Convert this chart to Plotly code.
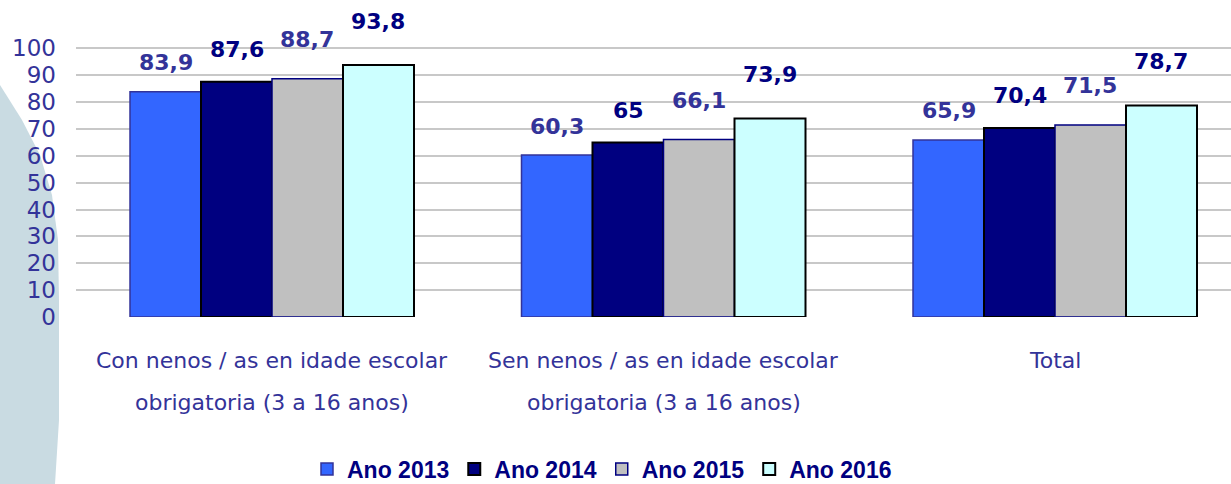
import plotly.graph_objects as go

# ---- data ----
categories = [
    "Con nenos / as en idade escolar|obrigatoria (3 a 16 anos)",
    "Sen nenos / as en idade escolar|obrigatoria (3 a 16 anos)",
    "Total",
]
series_names = ["Ano 2013", "Ano 2014", "Ano 2015", "Ano 2016"]
values_2013 = [83.9, 60.3, 65.9]
values_2014 = [87.6, 65.0, 70.4]
values_2015 = [88.7, 66.1, 71.5]
values_2016 = [93.8, 73.9, 78.7]
y_ticks = [0, 10, 20, 30, 40, 50, 60, 70, 80, 90, 100]

series_values = [values_2013, values_2014, values_2015, values_2016]

# ---- styles ----
fill_colors = ["#3366FF", "#000080", "#C0C0C0", "#CCFFFF"]
line_colors = ["#333399", "#000000", "#000080", "#000000"]
line_widths = [1.5, 2, 1.5, 2]
label_colors = ["#333399", "#000080", "#333399", "#000080"]
label_yshift = [29, 32, 39, 44]

W, H = 1231, 484
ML, MR, MT, MB = 76, 0, 0, 167
plot_w = W - ML - MR
plot_h = H - MT - MB
px_per_cat = 391.5
x_left = -(272 - ML) / px_per_cat
x_right = x_left + plot_w / px_per_cat
bargap = 0.2746
bar_px = px_per_cat * (1 - bargap) / 4

x_idx = list(range(len(categories)))

fig = go.Figure()
for i, name in enumerate(series_names):
    fig.add_trace(go.Bar(
        x=x_idx, y=series_values[i], name=name,
        marker=dict(color=fill_colors[i],
                    line=dict(color=line_colors[i], width=line_widths[i])),
        hoverinfo="skip",
    ))

annotations = []
# value labels
for i, vals in enumerate(series_values):
    for j, v in enumerate(vals):
        txt = ("%g" % v).replace(".", ",")
        annotations.append(dict(
            x=x_idx[j], y=v, xref="x", yref="y", text=txt, showarrow=False,
            xanchor="center", yanchor="middle",
            xshift=(i - 1.5) * bar_px, yshift=label_yshift[i],
            font=dict(family="DejaVu Sans", size=22, color=label_colors[i], weight="bold"),
        ))

# category labels (two lines with wide spacing)
line_y = [(plot_h - (360 - MT)) / plot_h, (plot_h - (402 - MT)) / plot_h]
for j, cat in enumerate(categories):
    parts = cat.split("|")
    ys = [line_y[0]] if len(parts) == 1 else line_y
    for p, yy in zip(parts, ys):
        annotations.append(dict(
            x=x_idx[j], y=yy, xref="x", yref="paper", text=p, showarrow=False,
            xanchor="center", yanchor="middle",
            font=dict(family="DejaVu Sans", size=22, color="#333399"),
        ))

# decorative background swirl on the left
def px2paper(px, py):
    return ((px - ML) / plot_w, (plot_h - (py - MT)) / plot_h)

pts = [(0, 85), (22, 120), (40, 155), (52, 195), (58, 240), (59, 300),
       (59, 420), (55, 484), (0, 484)]
path = ""
for k, (a, b) in enumerate(pts):
    xx, yy = px2paper(a, b)
    path += ("M" if k == 0 else " L") + " %.5f %.5f" % (xx, yy)
path += " Z"

fig.update_layout(
    width=W, height=H,
    margin=dict(l=ML, r=MR, t=MT, b=MB, pad=0, autoexpand=False),
    paper_bgcolor="white", plot_bgcolor="rgba(0,0,0,0)",
    barmode="group", bargap=bargap, bargroupgap=0,
    showlegend=True,
    legend=dict(
        orientation="h", xref="container", yref="container",
        x=602 / W, xanchor="center",
        y=(H - 469) / H, yanchor="middle",
        font=dict(family="Liberation Sans", size=23, color="#000080", weight="bold"),
        itemwidth=30, tracegroupgap=0, bgcolor="rgba(0,0,0,0)",
    ),
    xaxis=dict(
        range=[x_left, x_right], showticklabels=False, showgrid=False,
        zeroline=False, showline=False, ticks="", automargin=False,
    ),
    yaxis=dict(
        range=[0, plot_h / 2.686], tickvals=y_ticks, ticks="",
        showgrid=True, gridcolor="#C8C8C8", gridwidth=1.5,
        zeroline=False, showline=False, ticklabelstandoff=19, automargin=False,
        tickfont=dict(family="DejaVu Sans", size=23, color="#333399"),
    ),
    annotations=annotations,
    shapes=[dict(type="path", path=path, xref="paper", yref="paper",
                 fillcolor="#C9DBE2", line=dict(width=0), layer="below")],
)

fig.write_html(
    "out.html",
    config={"displayModeBar": False},
    post_script="document.body.style.margin='0px';document.body.style.overflow='hidden';",
)
